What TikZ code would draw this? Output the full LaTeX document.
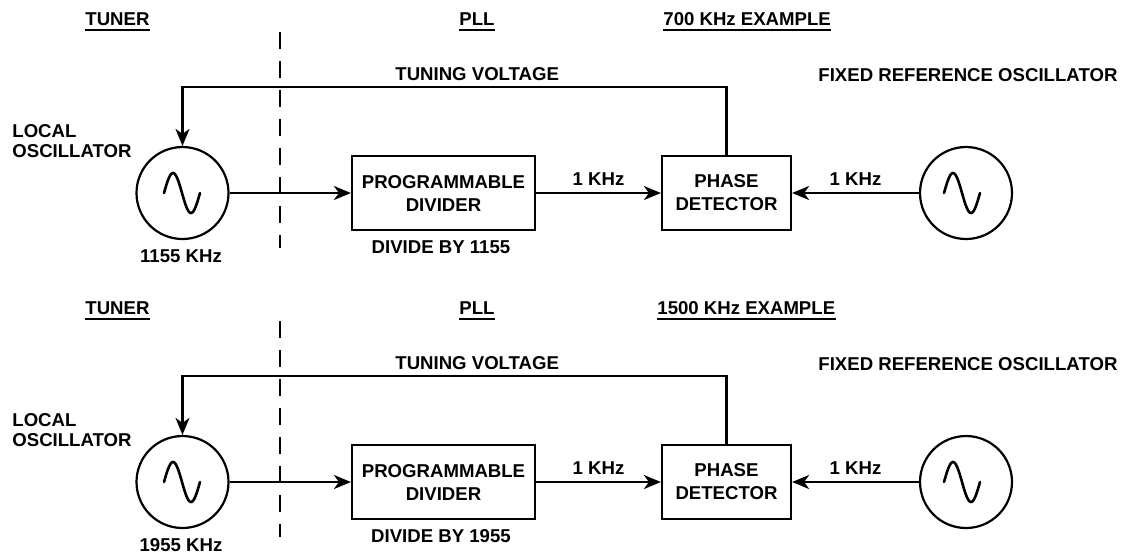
\documentclass[tikz,border=0pt]{standalone}
\usepackage{fontspec}
\setmainfont{Liberation Sans}
\usetikzlibrary{arrows.meta}
\tikzset{
  x=0.5pt, y=-0.5pt,
  lbl/.style={font=\bfseries\fontsize{9.3}{11.5}\selectfont, inner sep=0pt, anchor=base west},
  lblc/.style={lbl, anchor=base},
  blk/.style={draw, line width=1.1pt, minimum width=91.5pt, minimum height=37pt, inner sep=0pt, align=center, font=\bfseries\fontsize{9.3}{11.5}\selectfont},
  pdblk/.style={blk, minimum width=64.5pt},
  osc/.style={draw, circle, line width=1.1pt, minimum size=46pt, inner sep=0pt},
  wire/.style={line width=1.1pt},
  arr/.style={wire, -{Stealth[length=8.5pt,width=7pt,inset=2.5pt]}},
  uline/.style={line width=1pt},
  sep/.style={line width=1.4pt, dash pattern=on 8.5pt off 6pt},
  sine/.style={line width=1.3pt, line cap=round},
}
\newcommand\pllhalf[5]{%
\begin{scope}[shift={(0,#2)}]
  % headings
  \node[lbl] (#1tuner) at (85,25) {TUNER};
  \node[lbl] (#1pll) at (459,25) {PLL};
  \node[lbl] (#1ex) at (#4) {#3};
  \foreach \h in {#1tuner,#1pll,#1ex}
    \draw[uline] ([yshift=-2.6pt]\h.base west) -- ([yshift=-2.6pt]\h.base east);
  % separator
  \coordinate (#1sa) at (280,32);
  \coordinate (#1sb) at (280,248);
  \draw[sep] (#1sa) -- (#1sb);
  % labels
  \node[lbl] (#1tvl) at (395,80) {TUNING VOLTAGE};
  \node[lbl] (#1frl) at (818,81) {FIXED REFERENCE OSCILLATOR};
  \node[lbl] (#1lol1) at (12,137) {LOCAL};
  \node[lbl] (#1lol2) at (12,157) {OSCILLATOR};
  % blocks
  \node[osc] (#1lo) at (182.5,193) {};
  \node[blk] (#1pd) at (443.5,193) {PROGRAMMABLE\\DIVIDER};
  \node[pdblk] (#1ph) at (726.5,193) {PHASE\\DETECTOR};
  \node[osc] (#1rf) at (966,193) {};
  \draw[sine] plot[domain=0:360, samples=49, smooth] ({164+\x/10},{193-20*sin(\x)});
  \draw[sine] plot[domain=0:360, samples=49, smooth] ({944+\x/10},{193-20*sin(\x)});
  \node[lblc] (#1lof) at (181,262) {#5 KHz};
  \node[lblc] (#1div) at (441,253) {DIVIDE BY #5};
  % connectors
  \draw[arr] (#1lo.east) -- (#1pd.west);
  \draw[arr] (#1pd.east) -- node[lblc, above=3pt] (#1k1) {1 KHz} (#1ph.west);
  \draw[arr] (#1rf.west) -- node[lblc, above=3pt] (#1k2) {1 KHz} (#1ph.east);
  \coordinate (#1tv) at (0,87);
  \draw[arr] (#1ph.north) -- (#1ph.north |- #1tv) -- (#1lo.north |- #1tv) -- (#1lo.north);
\end{scope}}
\begin{document}
\begin{tikzpicture}
  \useasboundingbox (0,0) rectangle (1128,554);
  \pllhalf{a}{0}{700 KHz EXAMPLE}{663,25}{1155}
  \pllhalf{b}{289}{1500 KHz EXAMPLE}{657,25}{1955}
\end{tikzpicture}
\end{document}
